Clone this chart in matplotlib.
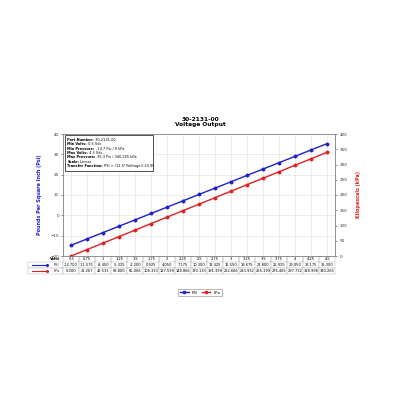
import matplotlib
matplotlib.use("Agg")
import matplotlib.pyplot as plt
from matplotlib.lines import Line2D

volts = [0.5, 0.75, 1.0, 1.25, 1.5, 1.75, 2.0, 2.25, 2.5, 2.75, 3.0, 3.25, 3.5, 3.75, 4.0, 4.25, 4.5]
volt_labels = ["0.5", "0.75", "1", "1.25", "1.5", "1.75", "2", "2.25", "2.5", "2.75", "3", "3.25", "3.5", "3.75", "4", "4.25", "4.5"]
psi = [-14.700, -11.575, -8.450, -5.325, -2.200, 0.925, 4.050, 7.175, 10.300, 13.425,
       16.550, 19.675, 22.800, 25.925, 29.050, 32.175, 35.300]
kpa = [0.000, 21.267, 42.533, 63.800, 85.066, 106.333, 127.599, 148.866, 170.133, 191.399,
       212.666, 233.932, 255.199, 276.465, 297.732, 318.998, 340.265]
info_lines = [
    ("Part Number:", " 30-2131-00"),
    ("Min Volts:", " 0.5 Vdc"),
    ("Min Pressure:", " -14.7 Psi / 0 kPa"),
    ("Max Volts:", " 4.5 Vdc"),
    ("Max Pressure:", " 35.3 Psi / 340.265 kPa"),
    ("Scale:", " Linear"),
    ("Transfer Function:", " PSI = (12.5*(Voltage))-20.95"),
]

BLUE = "#1f1fd0"
RED = "#e02020"

fig = plt.figure(figsize=(4, 4), dpi=100)
ax = fig.add_axes([0.158, 0.36, 0.68, 0.305])
ax2 = ax.twinx()

ax.plot(volts, psi, color=BLUE, lw=1.0, marker="o", ms=1.8, label="PSI")
ax2.plot(volts, kpa, color=RED, lw=1.0, marker="o", ms=1.8, label="kPa")

step = volts[1] - volts[0]
ax.set_xlim(volts[0] - step / 2, volts[-1] + step / 2)
ax.set_ylim(-20, 40)
ax.set_yticks(range(-20, 41, 10))
ax2.set_ylim(0, 400)
ax2.set_yticks(range(0, 401, 50))
ax.set_xticks(volts)
ax.set_xticklabels([])
ax.grid(True, color="#e4e4e4", lw=0.5)
ax.set_axisbelow(True)
for a in (ax, ax2):
    a.tick_params(axis="both", labelsize=3, length=1.5, width=0.4, pad=1.5, colors="#333333")
    for s in a.spines.values():
        s.set_linewidth(0.5)
        s.set_color("#888888")
ax.tick_params(axis="x", length=0)

ax.set_ylabel("Pounds Per Square Inch (Psi)", color=BLUE, fontsize=3.5, fontweight="bold", labelpad=6)
ax2.set_ylabel("Kilopascals (kPa)", color=RED, fontsize=3.5, fontweight="bold", labelpad=6)

fig.text(0.5, 0.702, "30-2131-00", ha="center", va="center", fontsize=4.2, fontweight="bold")
fig.text(0.5, 0.688, "Voltage Output", ha="center", va="center", fontsize=4.2, fontweight="bold")

# info box
y0 = 0.968
for i, (k, v) in enumerate(info_lines):
    t = ax.text(0.015, y0 - i * 0.036, k, transform=ax.transAxes, fontsize=2.5,
                fontweight="bold", va="top", ha="left", zorder=6)
    ax.annotate(v, xy=(1, 0), xycoords=t, fontsize=2.5, va="bottom", ha="left", zorder=6)
ax.add_patch(plt.Rectangle((0.008, 0.70), 0.322, 0.288, transform=ax.transAxes,
                           facecolor="white", lw=0.6, ec="#333333", zorder=5))

# data table (label column + one column per voltage)
lab_w = 0.13
n = len(volts)
psi_txt = [f"{v:.3f}" for v in psi]
kpa_txt = [f"{v:.3f}" for v in kpa]
cells = [["Volts"] + volt_labels, ["PSI"] + psi_txt, ["kPa"] + kpa_txt]
tbl = ax.table(cellText=cells, cellLoc="center",
               bbox=[-lab_w, -0.145, 1 + lab_w, 0.145])
tbl.auto_set_font_size(False)
tbl.set_fontsize(2.6)
for (r, c), cell in tbl.get_celld().items():
    cell.set_linewidth(0.3)
    cell.set_edgecolor("#aaaaaa")
    cell.set_width(lab_w if c == 0 else 1.0 / n)
    if r == 0:
        cell.visible_edges = "" if c == 0 else "LR"
    if c == 0:
        txt = cell.get_text()
        txt.set_ha("right")
        cell._loc = "right"
        if r == 0:
            txt.set_fontweight("bold")
        else:
            txt.set_color("#333333")

row_h = 0.145 / 3
for r, col in ((1, BLUE), (2, RED)):
    yc = -row_h * (r + 0.5)
    ax.add_line(Line2D([-0.115, -0.06], [yc, yc], color=col, lw=0.8, marker="o", ms=1.2,
                       markevery=[1], transform=ax.transAxes, clip_on=False))

# legend
handles = [Line2D([], [], color=BLUE, lw=1.0, marker="o", ms=1.6),
           Line2D([], [], color=RED, lw=1.0, marker="o", ms=1.6)]
fig.legend(handles, ["PSI", "kPa"], loc="center", bbox_to_anchor=(0.5, 0.268), ncol=2,
           fontsize=2.8, frameon=True, handlelength=2.2, borderpad=0.4, columnspacing=1.0,
           edgecolor="#666666", fancybox=False).get_frame().set_linewidth(0.4)

fig.savefig("out.png", dpi=100, facecolor="white")
